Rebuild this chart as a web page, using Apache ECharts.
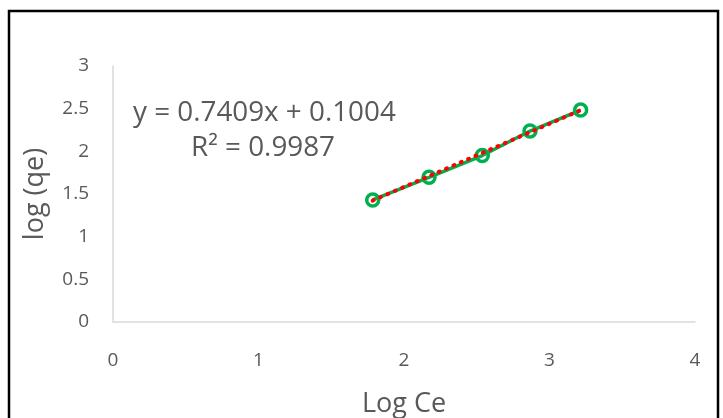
<!DOCTYPE html>
<html>
<head>
<meta charset="utf-8">
<script src="https://cdn.jsdelivr.net/npm/echarts@6/dist/echarts.min.js"></script>
<style>
  html, body { margin: 0; padding: 0; background: #fff; }
  #chart { width: 723px; height: 418px; }
</style>
</head>
<body>
<div id="chart"></div>
<script>
// Freundlich isotherm: log Ce vs log qe
var logCe = [1.785, 2.172, 2.538, 2.866, 3.214];
var logQe = [1.430, 1.696, 1.951, 2.238, 2.484];
var xTicks = [0, 1, 2, 3, 4];
var yTicks = [0, 0.5, 1, 1.5, 2, 2.5, 3];

// Linear trendline coefficients (as shown in the equation label)
var slope = 0.7409;
var intercept = 0.1004;
var rSquared = 0.9987;

var points = logCe.map(function (x, i) { return [x, logQe[i]]; });
var xFirst = logCe[0], xLast = logCe[logCe.length - 1];
var trend = [[xFirst, slope * xFirst + intercept], [xLast, slope * xLast + intercept]];

var font = 'Open Sans';
var textColor = '#595959';

var chart = echarts.init(document.getElementById('chart'), null, { renderer: 'canvas' });
chart.setOption({
  animation: false,
  backgroundColor: '#fff',
  grid: { left: 113, top: 66, width: 582, height: 256, containLabel: false, outerBoundsMode: 'none' },
  xAxis: {
    type: 'value', min: xTicks[0], max: xTicks[xTicks.length - 1], interval: 1,
    name: 'Log Ce', nameLocation: 'middle', nameGap: 69,
    nameTextStyle: { fontFamily: font, fontSize: 27, color: textColor },
    axisLine: { show: true, lineStyle: { color: '#d9d9d9', width: 1.5 } },
    axisTick: { show: false },
    splitLine: { show: false },
    axisLabel: { fontFamily: font, fontSize: 19, color: textColor, margin: 29 }
  },
  yAxis: {
    type: 'value', min: yTicks[0], max: yTicks[yTicks.length - 1], interval: 0.5,
    name: 'log (qe)', nameLocation: 'middle', nameGap: 64,
    nameTextStyle: { fontFamily: font, fontSize: 27, color: textColor },
    axisLine: { show: true, lineStyle: { color: '#d9d9d9', width: 1.5 } },
    axisTick: { show: false },
    splitLine: { show: false },
    axisLabel: { fontFamily: font, fontSize: 19, color: textColor, margin: 24 }
  },
  graphic: [
    {
      type: 'rect', z: 100, silent: true,
      shape: { x: 9, y: 11, width: 709, height: 420 },
      style: { fill: 'none', stroke: '#000', lineWidth: 2.5 }
    },
    {
      type: 'text', left: 133, top: 100, z: 50, scaleX: 1.03,
      style: { text: 'y = ' + slope.toFixed(4) + 'x + ' + intercept.toFixed(4), font: '27px "' + font + '"', fill: textColor }
    },
    {
      type: 'text', left: 191, top: 135, z: 50, scaleX: 1.03,
      style: { text: 'R\u00b2 = ' + rSquared.toFixed(4), font: '27px "' + font + '"', fill: textColor }
    }
  ],
  series: [
    {
      type: 'line', data: points, z: 2,
      symbol: 'circle', symbolSize: 12,
      lineStyle: { color: '#00b050', width: 3.5 },
      itemStyle: { color: 'rgba(255,255,255,0)', borderColor: '#00b050', borderWidth: 3.5 }
    },
    {
      type: 'line', data: trend, z: 3,
      symbol: 'none',
      lineStyle: { color: '#ff0000', width: 4, type: [1, 7], cap: 'round' }
    }
  ]
});
</script>
</body>
</html>
